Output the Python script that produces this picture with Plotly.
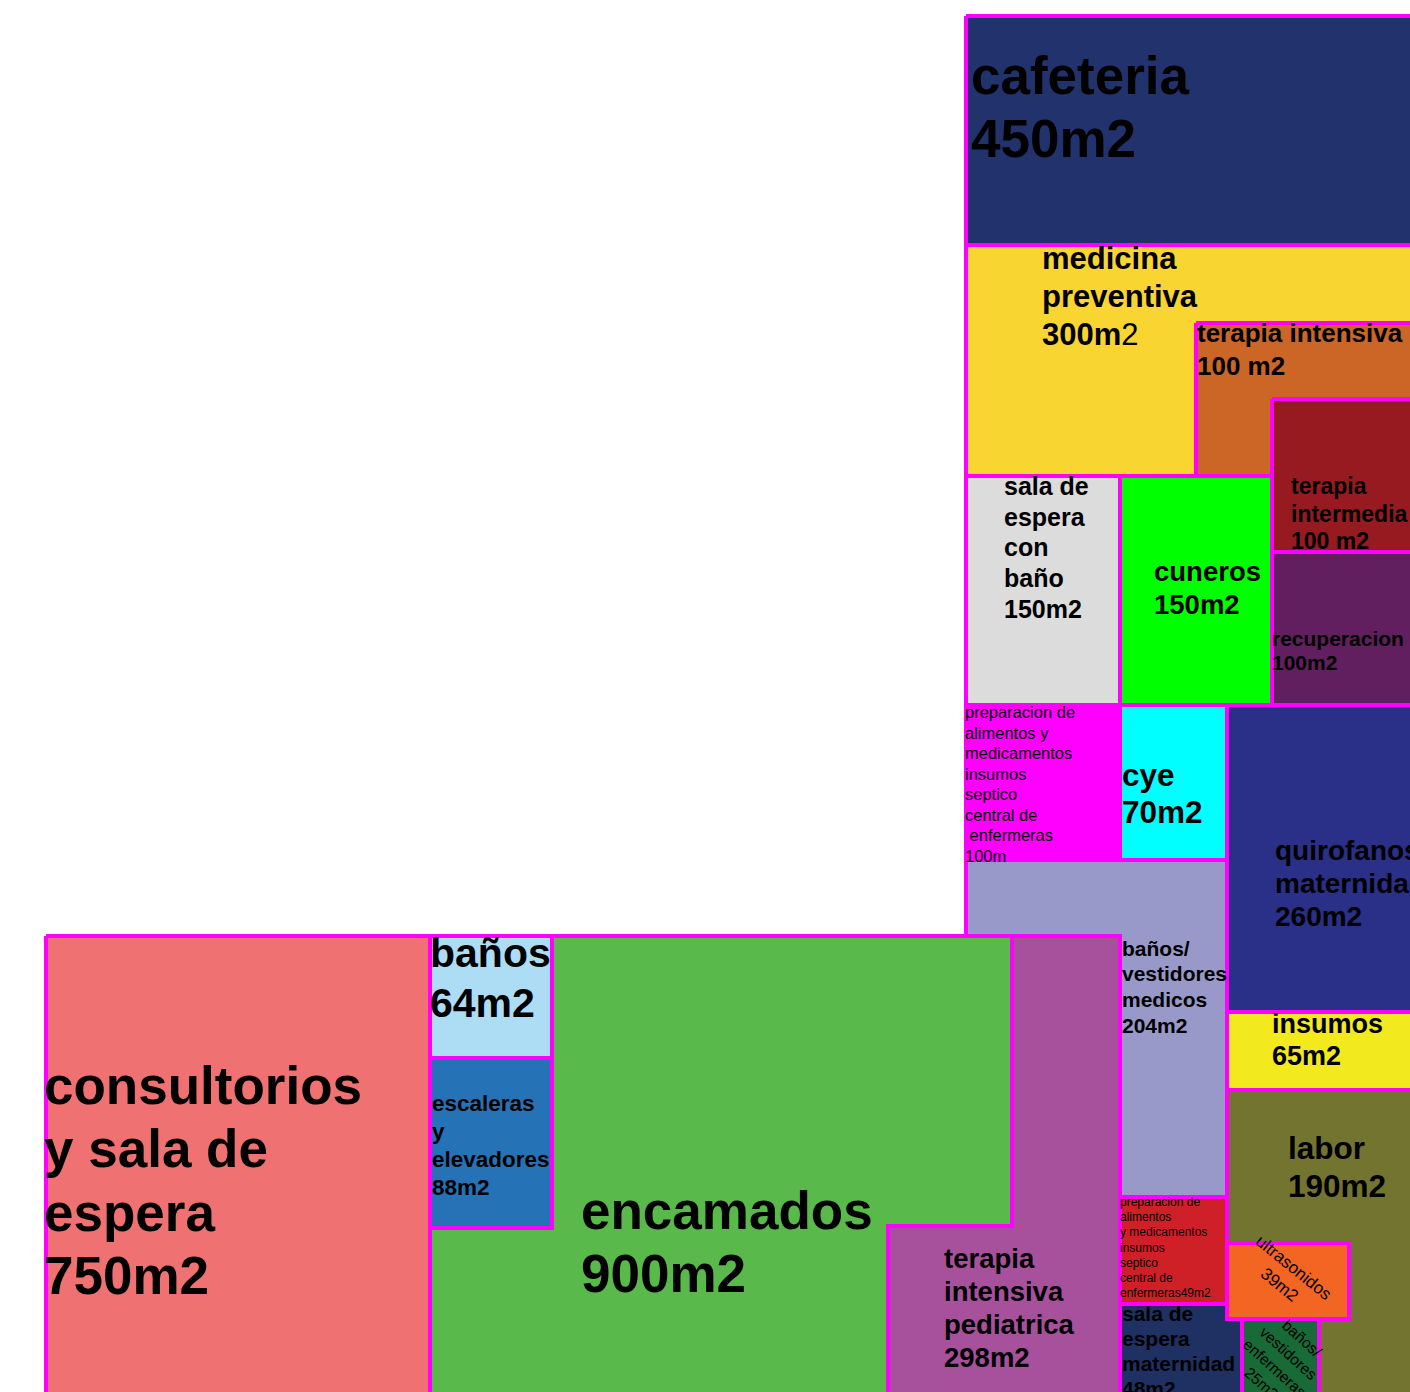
import plotly.graph_objects as go

# rooms of the plan, in drawing order (later rooms sit on top of earlier ones)
room_names = [
    "cafeteria", "medicina preventiva", "terapia intensiva", "terapia intermedia",
    "sala de espera con baño", "cuneros", "recuperacion",
    "preparacion / central de enfermeras", "cye", "baños/vestidores medicos",
    "quirofanos maternidad", "insumos", "labor",
    "consultorios y sala de espera", "encamados", "terapia intensiva pediatrica",
    "baños", "escaleras y elevadores",
    "preparacion / central de enfermeras 2", "sala de espera maternidad",
    "ultrasonidos", "baños/vestidores enfermeras",
]

room_labels = [
    "<b>cafeteria</b>\n<b>450m2</b>",
    "<b>medicina</b>\n<b>preventiva</b>\n<b>300m</b>2",
    "<b>terapia intensiva</b>\n<b>100 m2</b>",
    "<b>terapia</b>\n<b>intermedia</b>\n<b>100 m2</b>",
    "<b>sala de</b>\n<b>espera</b>\n<b>con</b>\n<b>baño</b>\n<b>150m2</b>",
    "<b>cuneros</b>\n<b>150m2</b>",
    "<b>recuperacion</b>\n<b>100m2</b>",
    "preparacion de\nalimentos y\nmedicamentos\ninsumos\nseptico\ncentral de\n\u00a0enfermeras\n100m",
    "<b>cye</b>\n<b>70m2</b>",
    "<b>baños/</b>\n<b>vestidores</b>\n<b>medicos</b>\n<b>204m2</b>",
    "<b>quirofanos</b>\n<b>maternidad</b>\n<b>260m2</b>",
    "<b>insumos</b>\n<b>65m2</b>",
    "<b>labor</b>\n<b>190m2</b>",
    "<b>consultorios</b>\n<b>y sala de</b>\n<b>espera</b>\n<b>750m2</b>",
    "<b>encamados</b>\n<b>900m2</b>",
    "<b>terapia</b>\n<b>intensiva</b>\n<b>pediatrica</b>\n<b>298m2</b>",
    "<b>baños</b>\n<b>64m2</b>",
    "<b>escaleras</b>\n<b>y</b>\n<b>elevadores</b>\n<b>88m2</b>",
    "preparacion de\nalimentos\ny medicamentos\ninsumos\nseptico\ncentral de\nenfermeras49m2",
    "<b>sala de</b>\n<b>espera</b>\n<b>maternidad</b>\n<b>48m2</b>",
    "ultrasonidos\n39m2",
    "baños/\nvestidores\nenfermeras\n25m2",
]

# outline of every room in plan units (y grows downward)
room_x = [
    [966, 1420, 1420, 966],
    [966, 1420, 1420, 966],
    [1196, 1420, 1420, 1196],
    [1272, 1420, 1420, 1272],
    [966, 1120, 1120, 966],
    [1120, 1272, 1272, 1120],
    [1272, 1420, 1420, 1272],
    [966, 1120, 1120, 966],
    [1120, 1227, 1227, 1120],
    [966, 1227, 1227, 966],
    [1227, 1420, 1420, 1227],
    [1227, 1420, 1420, 1227],
    [1227, 1420, 1420, 1227],
    [46, 430, 430, 46],
    [430, 1120, 1120, 430],
    [1012, 1120, 1120, 888, 888, 1012],
    [430, 552, 552, 430],
    [430, 552, 552, 430],
    [1120, 1227, 1227, 1120],
    [1120, 1242, 1242, 1120],
    [1227, 1349, 1349, 1227],
    [1242, 1319, 1319, 1242],
]
room_y = [
    [16, 16, 245, 245],
    [245, 245, 476, 476],
    [323, 323, 476, 476],
    [399, 399, 552, 552],
    [476, 476, 705, 705],
    [476, 476, 705, 705],
    [552, 552, 705, 705],
    [705, 705, 860, 860],
    [705, 705, 860, 860],
    [860, 860, 1197, 1197],
    [705, 705, 1012, 1012],
    [1012, 1012, 1090, 1090],
    [1090, 1090, 1400, 1400],
    [936, 936, 1400, 1400],
    [936, 936, 1400, 1400],
    [936, 936, 1400, 1400, 1226, 1226],
    [936, 936, 1058, 1058],
    [1058, 1058, 1228, 1228],
    [1197, 1197, 1304, 1304],
    [1304, 1304, 1400, 1400],
    [1243, 1243, 1319, 1319],
    [1319, 1319, 1400, 1400],
]

room_colors = [
    "#22326C", "#F8D531", "#CB6627", "#961A1F", "#DCDCDC", "#00FF00", "#621F5F",
    "#FF00FF", "#00FFFF", "#9999C9", "#2A2F87", "#F2EA1E", "#737430",
    "#F07171", "#59B94A", "#A7519D", "#ADDCF5", "#2672B7",
    "#D02027", "#1F3163", "#F26522", "#186A37",
]

# label placement: left x, first line centre y, line step, font size, angle
label_x = [970, 1041, 1196, 1290, 1003, 1153, 1271, 964, 1121, 1121, 1274, 1271, 1287,
           43, 580, 943, 429, 431, 1119, 1121, 1287, 1282]
label_y = [75, 258, 333, 486, 486, 571, 638, 712, 775, 948, 850, 1024, 1148,
           1085, 1210, 1258, 953, 1103, 1202, 1313, 1276, 1360]
label_step = [63, 38, 33, 27.5, 30.7, 33, 24, 20.5, 37, 25.7, 33, 32, 38,
              63.5, 63, 33.3, 50, 28, 15.2, 25, 0, 0]
label_size = [53, 31, 26, 23, 25, 27.5, 21, 16.5, 31.5, 21, 28, 27, 31.5,
              53, 53, 27.5, 41, 22.5, 12, 21, 17, 15.5]
label_angle = [0] * 20 + [39, 42]

fig = go.Figure()

for name, xs, ys, col in zip(room_names, room_x, room_y, room_colors):
    fig.add_trace(go.Scatter(
        x=xs + xs[:1], y=ys + ys[:1], name=name,
        mode="lines", fill="toself", fillcolor=col,
        line=dict(color="#FF00FF", width=4),
        hoverinfo="skip", showlegend=False,
    ))

for i, lab in enumerate(room_labels):
    lines = lab.split("\n")
    if label_angle[i]:
        fig.add_annotation(
            x=label_x[i], y=label_y[i], text="<br>".join(lines),
            textangle=label_angle[i], showarrow=False,
            xanchor="center", yanchor="middle", align="center",
            font=dict(family="Liberation Sans", size=label_size[i], color="black"),
        )
        continue
    for k, line in enumerate(lines):
        fig.add_annotation(
            x=label_x[i], y=label_y[i] + k * label_step[i], text=line,
            showarrow=False, xanchor="left", yanchor="middle", align="left",
            borderpad=0,
            font=dict(family="Liberation Sans", size=label_size[i], color="black"),
        )

fig.update_xaxes(range=[0, 1410], visible=False)
fig.update_yaxes(range=[1392, 0], visible=False)
fig.update_layout(
    width=1410, height=1392,
    margin=dict(l=0, r=0, t=0, b=0),
    paper_bgcolor="white", plot_bgcolor="white",
    hovermode=False,
)

# drop the default page margin so the figure fills the window exactly
fig.write_html("out.html", config={"displayModeBar": False},
               post_script="document.body.style.margin='0';")
